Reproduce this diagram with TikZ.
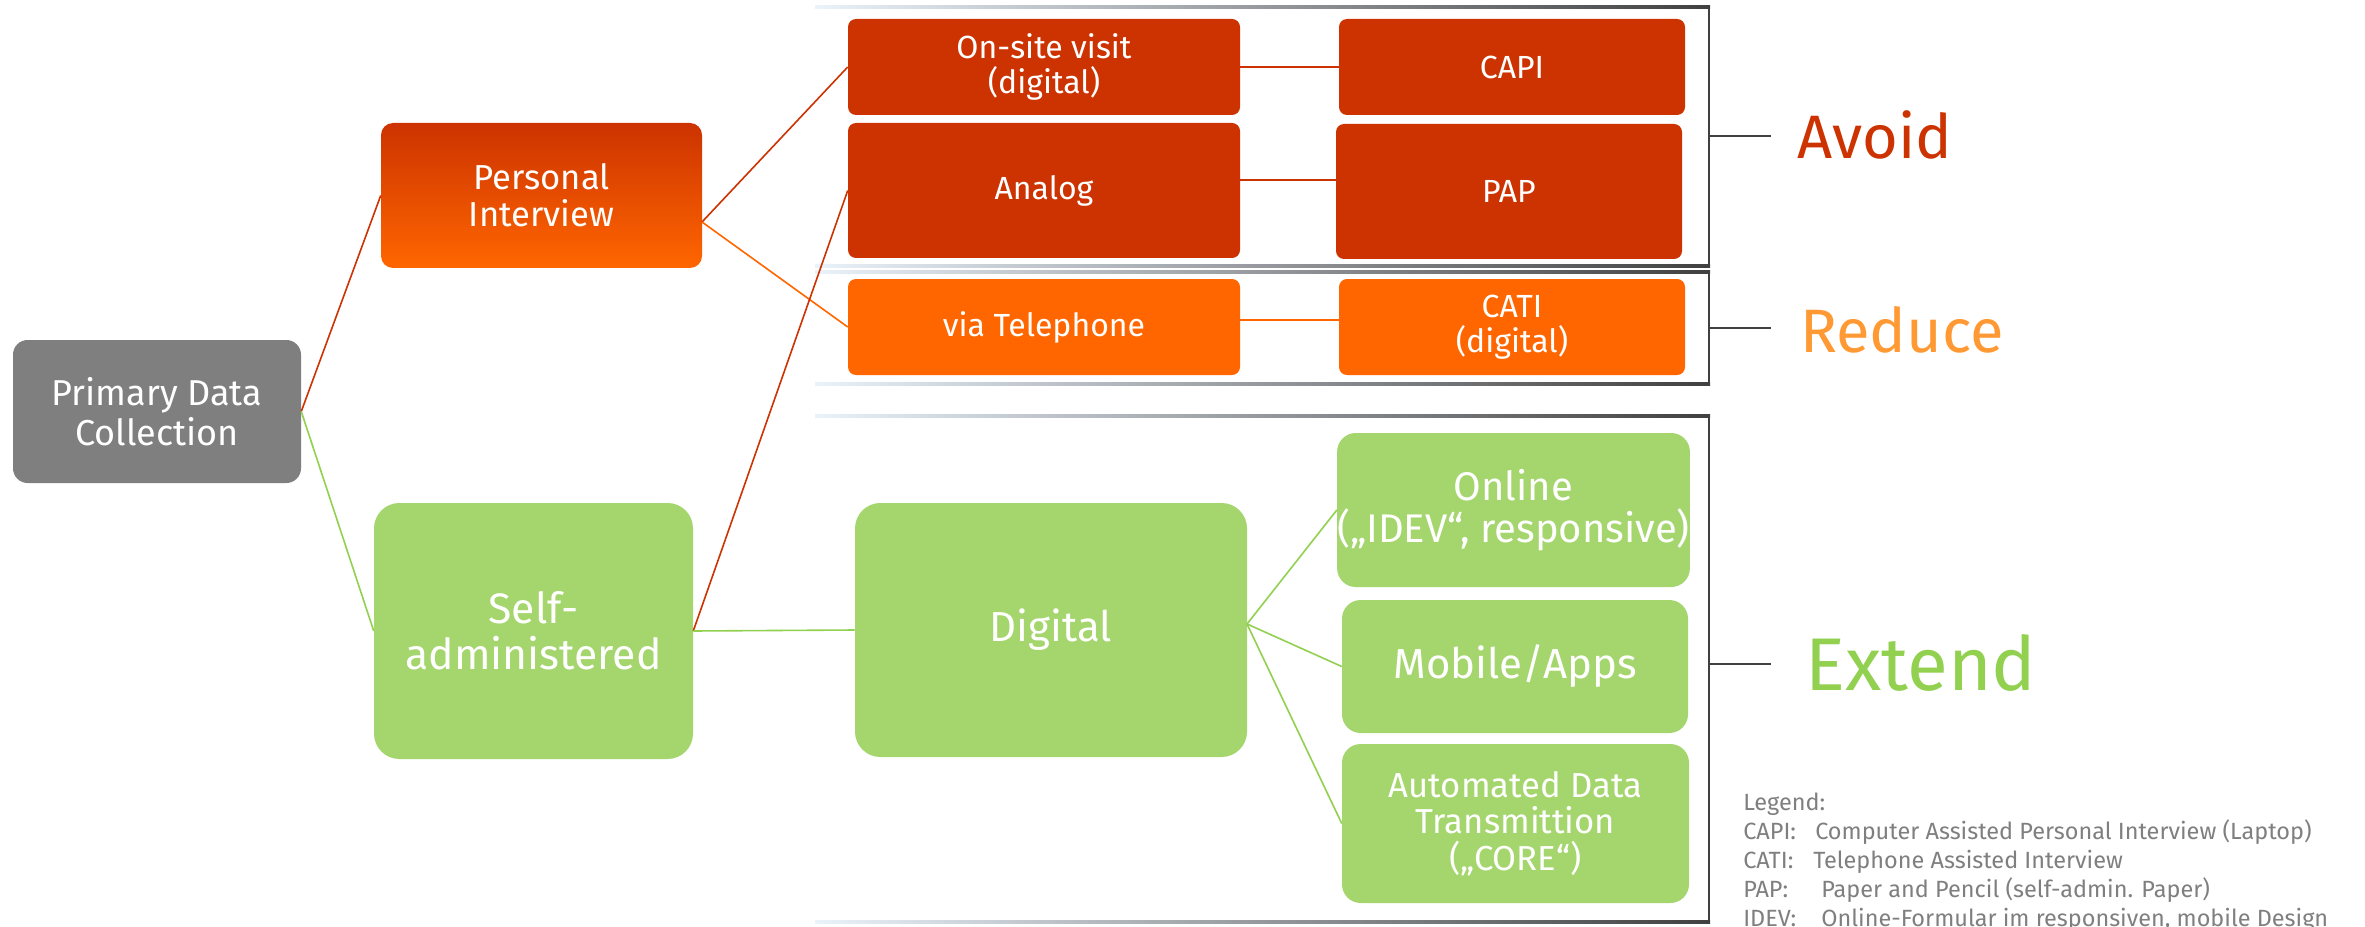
\documentclass[tikz,border=0pt]{standalone}
\usepackage{fontspec}
\setmainfont{Fira Sans}
\usetikzlibrary{calc}
\definecolor{dred}{HTML}{CC3300}
\definecolor{orng}{HTML}{FF6600}
\definecolor{lorng}{HTML}{FF9933}
\definecolor{grn}{HTML}{A5D66E}
\definecolor{lgrn}{HTML}{92D050}
\definecolor{gry}{HTML}{7F7F7F}
\definecolor{frm}{HTML}{404040}
\definecolor{frml}{HTML}{EAF2FA}
\newcommand\myfs[2]{\fontsize{#1}{#2}\selectfont}
\newcommand\bx[8]{%
 \pgfmathsetmacro\cx{(#3+#5)/2}\pgfmathsetmacro\cy{(#4+#6)/2}%
 \pgfmathsetmacro\ww{(#5-#3)*0.75}\pgfmathsetmacro\hh{(#6-#4)*0.75}%
 \node[#1, font={#7}, minimum width=\ww pt, minimum height=\hh pt] (#2) at (\cx,\cy) {#8};}
\newcommand\gline[3]{\fill[left color=frml, right color=frm] (#1,#2-1.6) rectangle (#3,#2+1.6);}
\newcommand\brk[4]{% top, bottom, tick y, name
 \gline{815}{#1}{1710}\gline{815}{#2}{1710}
 \draw[frm, line width=1.5pt] (1709,#1) -- (1709,#2);
 \coordinate (#4) at (1771,#3);
 \draw[frm, line width=1.5pt] (1709,#3) -- (#4);}
\tikzset{
 box/.style={text=white, inner sep=0pt, align=center},
 conR/.style={dred, line width=1.2pt},
 conO/.style={orng, line width=1.2pt},
 conG/.style={lgrn, line width=1.2pt},
 leg/.style={anchor=base west, inner sep=0pt, text=gry, font={\myfs{17.6pt}{20pt}}},
 big/.style={anchor=base west, inner sep=0pt}
}
\begin{document}
\begin{tikzpicture}[x=0.75pt, y=-0.75pt]
\useasboundingbox (0,0) rectangle (2365,927);
\fill[white] (0,0) rectangle (2365,927);

% frames
\brk{7}{266}{136}{tA}
\brk{272}{384}{328}{tR}
\brk{416}{922}{664}{tE}

% boxes
\bx{box,fill=gry,rounded corners=11pt}{pdc}{13}{340}{301}{483}{\myfs{27pt}{30pt}}{Primary Data\\Collection}
\bx{box,top color=dred,bottom color=orng,rounded corners=9pt}{pi}{381}{123}{702}{268}{\myfs{26pt}{28pt}}{Personal\\Interview}
\bx{box,fill=grn,rounded corners=19pt}{sa}{374}{503}{693}{759}{\myfs{32pt}{34.5pt}}{Self-\\administered}
\bx{box,fill=dred,rounded corners=6pt}{osv}{848}{19}{1240}{115}{\myfs{24pt}{26pt}}{On-site visit\\(digital)}
\bx{box,fill=dred,rounded corners=6pt}{capi}{1339}{19}{1685}{115}{\myfs{24pt}{26pt}}{CAPI}
\bx{box,fill=dred,rounded corners=6pt}{ana}{848}{123}{1240}{258}{\myfs{24pt}{26pt}}{Analog}
\bx{box,fill=dred,rounded corners=6pt}{pap}{1336}{124}{1682}{259}{\myfs{24pt}{26pt}}{PAP}
\bx{box,fill=orng,rounded corners=6pt}{tel}{848}{279}{1240}{375}{\myfs{24pt}{26pt}}{via Telephone}
\bx{box,fill=orng,rounded corners=6pt}{cati}{1339}{279}{1685}{375}{\myfs{24pt}{26pt}}{CATI\\(digital)}
\bx{box,fill=grn,rounded corners=19pt}{dig}{855}{503}{1247}{757}{\myfs{31.5pt}{34pt}}{Digital}
\bx{box,fill=grn,rounded corners=14pt}{onl}{1339}{433}{1688}{587}{\myfs{30pt}{31.5pt}}{Online\\(„IDEV“, responsive)}
\bx{box,fill=grn,rounded corners=14pt}{mob}{1342}{600}{1688}{733}{\myfs{31.5pt}{34pt}}{Mobile/Apps}
\bx{box,fill=grn,rounded corners=14pt}{adt}{1342}{744}{1689}{903}{\myfs{26pt}{27.5pt}}{Automated Data\\Transmittion\\(„CORE“)}

% connectors
\draw[conR] (pdc.east) -- (pi.west);
\draw[conG] (pdc.east) -- (sa.west);
\coordinate (pir) at (702,222);
\draw[conR] (pir) -- (osv.west);
\draw[conO] (pir) -- (tel.west);
\draw[conR] (sa.east) -- (ana.west);
\draw[conG] (sa.east) -- (dig.west);
\draw[conR] (osv.east) -- (capi.west);
\coordinate (anr) at (1240,180);
\draw[conR] (anr) -- (anr -| pap.west);
\coordinate (telr) at (1240,320);
\draw[conO] (telr) -- (telr -| cati.west);
\coordinate (digr) at (1247,624);
\draw[conG] (digr) -- (onl.west);
\draw[conG] (digr) -- (mob.west);
\draw[conG] (digr) -- (adt.west);

% labels
\node[big, text=dred, font={\myfs{46pt}{50pt}}] (avoid) at (1797,159) {Avoid};
\node[big, text=lorng, font={\myfs{46pt}{50pt}}] (reduce) at (1800,352) {Reduce};
\node[big, text=lgrn, font={\myfs{56pt}{60pt}}] (extend) at (1805,690) {Extend};

% legend
\node[leg] (lg0) at (1743,810) {Legend:};
\node[leg] (lg1) at (1743,839.5) {CAPI:};
\node[leg] (lg1t) at (1815,839.5) {Computer Assisted Personal Interview (Laptop)};
\node[leg] (lg2) at (1743,868.5) {CATI:};
\node[leg] (lg2t) at (1813,868.5) {Telephone Assisted Interview};
\node[leg] (lg3) at (1743,897.5) {PAP:};
\node[leg] (lg3t) at (1821,897.5) {Paper and Pencil (self-admin. Paper)};
\node[leg] (lg4) at (1743,926.5) {IDEV:};
\node[leg] (lg4t) at (1821,926.5) {Online-Formular im responsiven, mobile Design};
\end{tikzpicture}
\end{document}
